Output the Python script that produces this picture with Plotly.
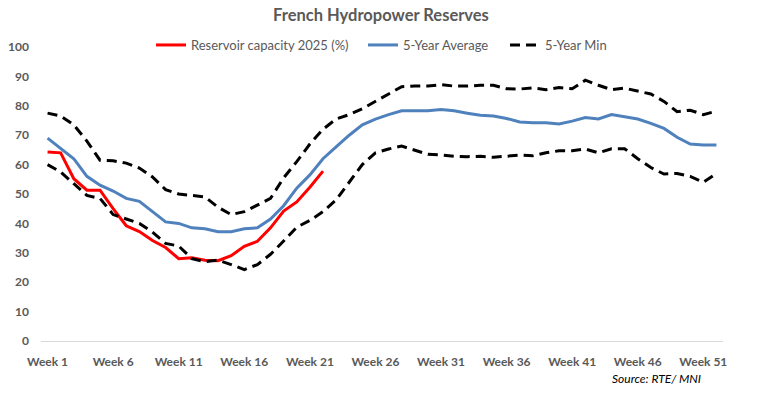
import plotly.graph_objects as go

weeks = list(range(1, 53))
tick_vals = [1, 6, 11, 16, 21, 26, 31, 36, 41, 46, 51]
tick_text = [f"Week {w}" for w in tick_vals]

res_2025 = [64.3, 64.0, 55.2, 51.3, 51.3, 45.0, 39.2, 37.2, 34.2, 31.8, 28.0, 28.3,
            27.5, 27.3, 29.0, 32.2, 33.9, 38.5, 44.2, 47.3, 52.3, 57.8]

avg_5y = [69.0, 65.5, 62.0, 56.0, 53.0, 51.0, 48.5, 47.5, 44.0, 40.5, 40.0, 38.5,
          38.2, 37.2, 37.2, 38.2, 38.5, 41.5, 46.0, 52.0, 56.5, 62.0, 66.0, 70.0,
          73.5, 75.5, 77.0, 78.3, 78.3, 78.3, 78.7, 78.3, 77.5, 76.8, 76.5, 75.7,
          74.5, 74.2, 74.2, 73.8, 74.8, 76.0, 75.5, 77.0, 76.3, 75.5, 74.0, 72.3,
          69.3, 67.0, 66.7, 66.7]

max_5y = [77.5, 76.5, 73.5, 68.0, 61.5, 61.3, 60.5, 58.8, 55.8, 51.5, 50.0, 49.5,
          49.0, 45.5, 43.0, 44.0, 46.3, 48.5, 55.5, 61.0, 67.0, 72.0, 75.5, 77.0,
          79.0, 81.5, 84.0, 86.5, 86.7, 86.7, 87.2, 86.7, 86.7, 87.0, 87.0, 85.8,
          85.7, 86.1, 85.5, 86.2, 85.8, 88.7, 87.0, 85.5, 86.0, 85.0, 84.0, 81.5,
          78.0, 78.5, 77.0, 78.2]

min_5y = [60.0, 57.5, 53.5, 49.5, 48.5, 43.0, 41.5, 40.0, 37.0, 33.2, 32.3, 28.0,
          27.0, 27.5, 26.0, 24.3, 26.0, 29.5, 34.0, 38.7, 41.0, 44.0, 48.0, 54.0,
          60.0, 64.0, 65.3, 66.3, 65.0, 63.5, 63.3, 62.8, 62.7, 62.8, 62.5, 62.8,
          63.2, 63.0, 64.0, 64.7, 64.7, 65.3, 64.0, 65.4, 65.4, 62.0, 59.0, 56.8,
          57.0, 56.0, 54.0, 57.0]

FONT = "Lato, Carlito, 'Open Sans', sans-serif"
GRAY = "#595959"

W, H = 757, 394
PL, PR, PT, PB = 41, 723, 47, 341   # plot area in pixels
PW, PH = PR - PL, PB - PT


def px_x(x):
    return (x - PL) / PW


def px_y(y):
    return (PB - y) / PH


fig = go.Figure()
fig.add_trace(go.Scatter(x=weeks[:len(res_2025)], y=res_2025, mode="lines",
                         name="Reservoir capacity 2025 (%)", legend="legend",
                         line=dict(color="#FF0000", width=3)))
fig.add_trace(go.Scatter(x=weeks, y=avg_5y, mode="lines", name="5-Year Average",
                         legend="legend2",
                         line=dict(color="#4F81BD", width=3)))
fig.add_trace(go.Scatter(x=weeks, y=min_5y, mode="lines", name="5-Year Min",
                         legend="legend3",
                         line=dict(color="#000000", width=3, dash="10px,6px")))
fig.add_trace(go.Scatter(x=weeks, y=max_5y, mode="lines", name="5-Year Max",
                         showlegend=False,
                         line=dict(color="#000000", width=3, dash="10px,6px")))

leg_common = dict(orientation="h", xanchor="left", yanchor="middle",
                  y=px_y(45), font=dict(size=13, color=GRAY, family=FONT),
                  bgcolor="rgba(0,0,0,0)", itemwidth=30)

fig.update_layout(
    width=W, height=H,
    margin=dict(l=PL, r=W - PR, t=PT, b=H - PB, autoexpand=False),
    paper_bgcolor="white", plot_bgcolor="white",
    font=dict(family=FONT, color=GRAY, size=12),
    title=dict(text="<b>French Hydropower Reserves</b>",
               x=381 / W, xref="container", xanchor="center",
               y=1 - 15 / H, yref="container", yanchor="middle",
               font=dict(size=16.5, color="#595959", family=FONT)),
    legend=dict(x=px_x(151), **leg_common),
    legend2=dict(x=px_x(363), **leg_common),
    legend3=dict(x=px_x(505), **leg_common),
    showlegend=True,
)
fig.add_annotation(text="<i>Source: RTE/ MNI</i>", xref="paper", yref="paper",
                   x=px_x(703), y=px_y(378), xanchor="right",
                   yanchor="middle", showarrow=False,
                   font=dict(size=12, color="#000000", family=FONT))

fig.update_xaxes(range=[0.5, 52.5], tickvals=tick_vals, ticktext=tick_text,
                 showgrid=False, showline=True, linecolor="#D9D9D9", linewidth=1,
                 ticks="", tickfont=dict(size=12, color=GRAY, family=FONT,
                                         weight="bold"),
                 zeroline=False, ticklabelstandoff=10)
fig.update_yaxes(range=[0, 100], dtick=10, showgrid=False, showline=False,
                 zeroline=False, ticks="",
                 tickfont=dict(size=12, color=GRAY, family=FONT, weight="bold"),
                 ticklabelstandoff=11)

fig.write_html("out.html", config={"displayModeBar": False},
               post_script="document.body.style.margin='0';"
                           "document.body.style.overflow='hidden';")
